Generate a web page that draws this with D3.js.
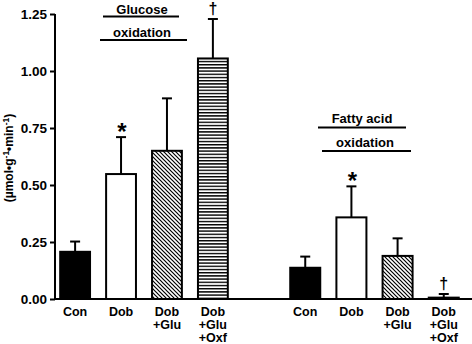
<!DOCTYPE html>
<html><head><meta charset="utf-8">
<script src="https://cdn.jsdelivr.net/npm/d3@7"></script>
<style>body{margin:0;background:#fff}svg{display:block}text{font-family:"Liberation Sans",Arial,sans-serif;font-weight:bold}</style>
</head><body><svg id="c" width="472" height="344"></svg>
<script>
const categories = ["Con", "Dob", "Dob\n+Glu", "Dob\n+Glu\n+Oxf"];
const glucoseMean = [0.207, 0.548, 0.650, 1.055];
const glucoseErr = [0.045, 0.162, 0.230, 0.173];
const fattyMean = [0.137, 0.358, 0.189, 0.006];
const fattyErr = [0.049, 0.136, 0.077, 0.016];
const yTicks = [0, 0.25, 0.5, 0.75, 1.0, 1.25];
const glucoseMarks = ["", "*", "", "†"];
const fattyMarks = ["", "*", "", "†"];
const fills = ["#000", "#fff", "url(#diag)", "url(#horiz)"];

const svg = d3.select("#c");
const defs = svg.append("defs");
const pd = defs.append("pattern").attr("id","diag").attr("patternUnits","userSpaceOnUse").attr("width",4).attr("height",4);
pd.append("rect").attr("width",4).attr("height",4).attr("fill","#fff");
pd.append("path").attr("d","M-1,-1L5,5M-1,3L1,5M3,-1L5,1").attr("stroke","#000").attr("stroke-width",1.2);
const ph = defs.append("pattern").attr("id","horiz").attr("patternUnits","userSpaceOnUse").attr("width",4).attr("height",3.2);
ph.append("rect").attr("width",4).attr("height",3.2).attr("fill","#fff");
ph.append("rect").attr("y",0).attr("width",4).attr("height",1.4).attr("fill","#000");

const y = d3.scaleLinear().domain([0,1.25]).range([299,14]);
const groups = [
  {mean: glucoseMean, err: glucoseErr, marks: glucoseMarks, x: d3.scaleBand().domain(categories).range([51,237]).paddingInner(0.35).paddingOuter(0.2)},
  {mean: fattyMean, err: fattyErr, marks: fattyMarks, x: d3.scaleBand().domain(categories).range([281,468]).paddingInner(0.35).paddingOuter(0.2)}
];

// axes
const yAxis = d3.axisLeft(y).tickValues(yTicks).tickFormat(d3.format(".2f")).tickSize(5).tickPadding(3);
const ga = svg.append("g").attr("transform","translate(55,0)").call(yAxis);
ga.select(".domain").attr("stroke-width",2).attr("d","M0,14V299");
ga.selectAll(".tick line").attr("stroke-width",2);
ga.selectAll(".tick text").attr("font-size",13.5).attr("fill","#000");
svg.append("line").attr("x1",54).attr("x2",472).attr("y1",y(0)).attr("y2",y(0)).attr("stroke","#000").attr("stroke-width",2);

svg.append("text").attr("transform","translate(13,158) rotate(-90)").attr("text-anchor","middle").attr("font-size",12)
  .html('(µmol•g<tspan dy="-4" font-size="8.5">-1</tspan><tspan dy="4">•min</tspan><tspan dy="-4" font-size="8.5">-1</tspan><tspan dy="4">)</tspan>');

groups.forEach(g => {
  const x = g.x;
  const w = x.bandwidth();
  categories.forEach((c,i) => {
    const cx = x(c) + w/2;
    const top = y(g.mean[i] + g.err[i]);
    svg.append("line").attr("x1",cx).attr("x2",cx).attr("y1",top).attr("y2",y(g.mean[i])).attr("stroke","#000").attr("stroke-width",2);
    svg.append("line").attr("x1",cx-5).attr("x2",cx+5).attr("y1",top).attr("y2",top).attr("stroke","#000").attr("stroke-width",2);
    svg.append("rect").attr("x",x(c)).attr("y",y(g.mean[i])).attr("width",w).attr("height",y(0)-y(g.mean[i]))
      .attr("fill",fills[i]).attr("stroke","#000").attr("stroke-width",2);
    const lines = c.split("\n");
    lines.forEach((l,j)=> svg.append("text").attr("text-anchor","middle").attr("font-size",12.5)
      .attr("x",cx).attr("y",316 + j*13).text(l));
    if (g.marks[i]) {
      const m = g.marks[i];
      svg.append("text").attr("text-anchor","middle").attr("x",cx+(m==="*"?1:0)).attr("y", top - (m==="*"? -3 : 5))
        .attr("font-size", m==="*"?24:16).text(m);
    }
  });
});

// titles
function title(txt, cx, by, lx1, lx2, ly) {
  svg.append("text").attr("text-anchor","middle").attr("x",cx).attr("y",by).attr("font-size",13).text(txt);
  svg.append("line").attr("x1",lx1).attr("x2",lx2).attr("y1",ly).attr("y2",ly).attr("stroke","#000").attr("stroke-width",2);
}
title("Glucose", 142, 14, 103, 179, 16.5);
title("oxidation", 142, 37, 100, 187, 40);
title("Fatty acid", 362, 123, 318, 406, 127.5);
title("oxidation", 365, 147, 322, 411, 151);
</script></body></html>
